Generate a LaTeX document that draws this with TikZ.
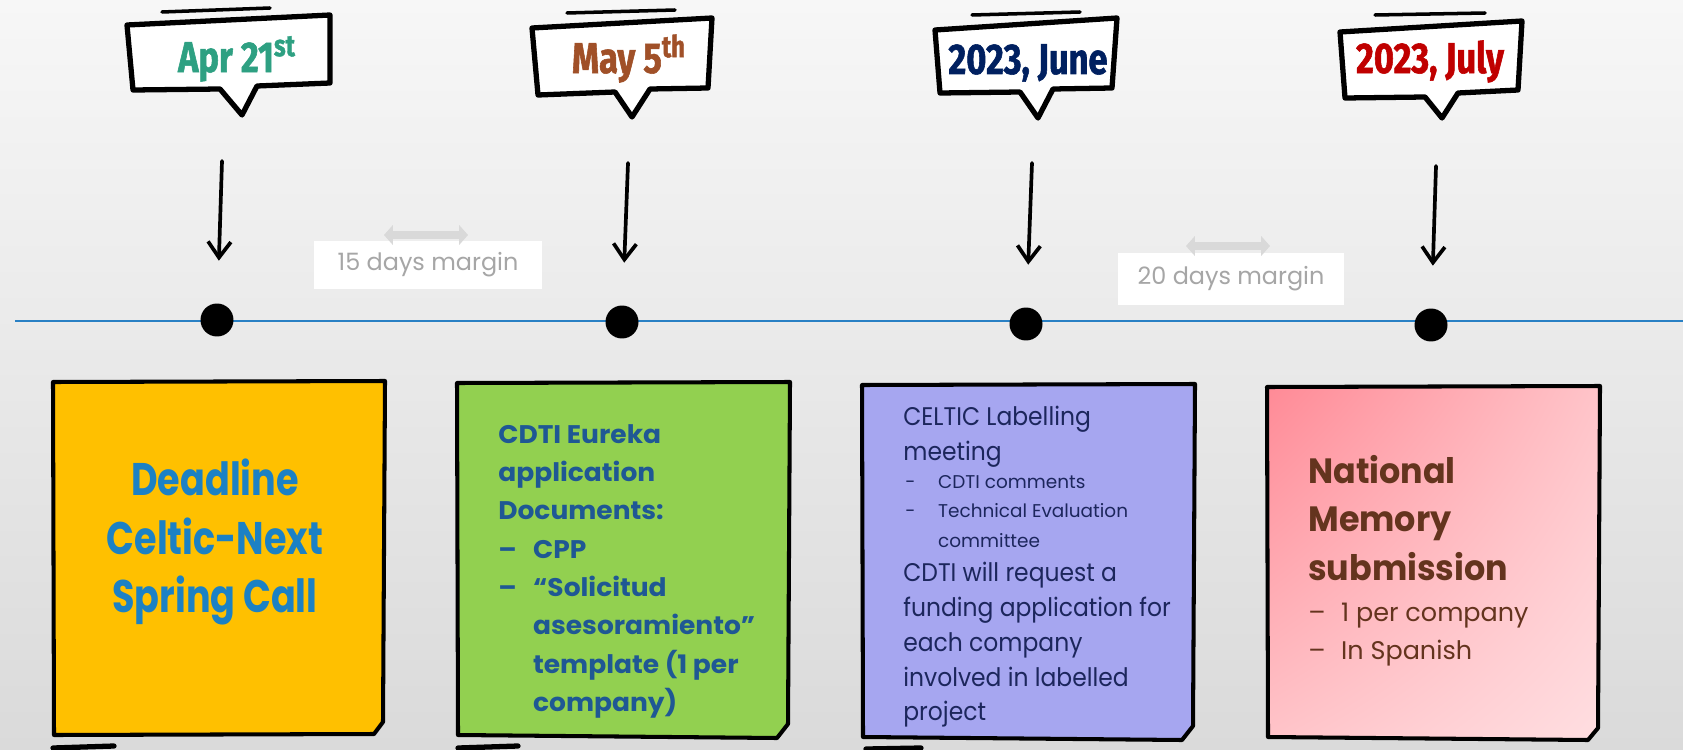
\documentclass[tikz,border=0pt]{standalone}
\usepackage{fontspec}
\usetikzlibrary{arrows.meta,calc,shadings}

\newfontfamily\datefont[FakeStretch=0.8, BoldFeatures={FakeBold=1.3}]{Fira Sans}
\newfontfamily\notefont[FakeStretch=0.8]{Poppins}
\newfontfamily\widefont[FakeStretch=1.04]{Poppins}
\newfontfamily\narrowfont[FakeStretch=0.92]{Poppins}
\newfontfamily\headfont[FakeStretch=0.95]{Poppins}
\newfontfamily\plainfont{Poppins}

\definecolor{paper}{RGB}{247,247,247}
\definecolor{paperlow}{RGB}{218,218,218}
\definecolor{timeblue}{RGB}{41,128,196}
\definecolor{dateapr}{RGB}{46,160,130}
\definecolor{datemay}{RGB}{160,80,40}
\definecolor{datejun}{RGB}{0,32,96}
\definecolor{datejul}{RGB}{192,0,0}
\definecolor{gaptext}{RGB}{166,166,166}
\definecolor{gapline}{RGB}{217,217,217}
\definecolor{noteyellow}{RGB}{255,192,0}
\definecolor{notegreen}{RGB}{146,208,80}
\definecolor{notepurple}{RGB}{166,166,240}
\definecolor{pinkhi}{RGB}{255,138,150}
\definecolor{pinkmid}{RGB}{255,196,201}
\definecolor{pinklo}{RGB}{255,222,225}
\definecolor{textyellow}{RGB}{28,129,196}
\definecolor{textgreen}{RGB}{31,88,148}
\definecolor{textpurple}{RGB}{28,38,92}
\definecolor{textpink}{RGB}{100,52,30}

\tikzset{
  bubble/.style={draw=black, line width=3pt, line join=round, fill=white},
  overline/.style={line width=2pt, line cap=round},
  drop/.style={line width=2.1pt, line cap=round, shorten >=0.85cm,
    -{Straight Barb[length=9pt,width=13pt]}},
  dot/.style={circle, fill=black, minimum size=0.66cm, inner sep=0pt},
  note/.style={draw=black, line width=2.3pt, line join=round},
  datelabel/.style={font=\datefont\bfseries\fontsize{24.5}{28}\selectfont, inner sep=0pt, anchor=base},
  gap/.style={fill=white, text=gaptext, inner sep=0pt,
    font=\plainfont\fontsize{13.6}{16}\selectfont},
  gaparrow/.style={draw=gapline, line width=4pt,
    {Triangle[length=5pt,width=11pt]}-{Triangle[length=5pt,width=11pt]}},
  notetext/.style={inner sep=0pt, align=left, anchor=north west},
}

\begin{document}
\begin{tikzpicture}[x=0.02cm, y=-0.02cm]
  \useasboundingbox (0,0) rectangle (1683,750);
  \shade[top color=paper, bottom color=paperlow] (0,0) rectangle (1683,750);

  % timeline
  \coordinate (tl0) at (15,321);
  \coordinate (tl1) at (1683,321);
  \draw[timeblue, line width=1.3pt] (tl0) -- (tl1);
  \node[dot] (d1) at (217,320) {};
  \node[dot] (d2) at (622,322) {};
  \node[dot] (d3) at (1026,324) {};
  \node[dot] (d4) at (1431,325) {};

  % date bubbles
  \draw[bubble] (127,25) -- (330,15) -- (330,83) -- (257,86) -- (242,115) -- (220,89) -- (133,90) -- cycle;
  \draw[overline] (162,12) -- (270,8);
  \node[datelabel, text=dateapr] (lab1) at (237,72) {Apr 21\textsuperscript{st}};

  \draw[bubble] (532,28) -- (712,18) -- (708,88) -- (650,89) -- (632,117) -- (615,92) -- (538,95) -- cycle;
  \draw[overline] (567,13) -- (675,10);
  \node[datelabel, text=datemay] (lab2) at (629,73) {May 5\textsuperscript{th}};

  \draw[bubble] (935,30) -- (1117,18) -- (1112,88) -- (1053,89) -- (1038,118) -- (1020,92) -- (940,93) -- cycle;
  \draw[overline] (972,15) -- (1080,12);
  \node[datelabel, text=datejun] (lab3) at (1028,74) {2023, June};

  \draw[bubble] (1340,32) -- (1522,21) -- (1518,90) -- (1458,93) -- (1442,118) -- (1425,97) -- (1345,98) -- cycle;
  \draw[overline] (1375,15) -- (1485,13);
  \node[datelabel, text=datejul] (lab4) at (1430,73) {2023, July};

  % arrows down to the dots
  \coordinate (t1) at (222,161);
  \coordinate (t2) at (628,163);
  \coordinate (t3) at (1032,163);
  \coordinate (t4) at (1436,166);
  \foreach \i in {1,...,4}
    \draw[drop] (t\i) -- (d\i);

  % margins
  \node[gap, minimum width=4.56cm, minimum height=0.96cm] (m1) at (428,265) {15 days margin};
  \coordinate (m1a) at (384,235);
  \coordinate (m1b) at (468,235);
  \draw[gaparrow] (m1a) -- (m1b);
  \node[gap, minimum width=4.52cm, minimum height=1.06cm] (m2) at (1231,279) {20 days margin};
  \coordinate (m2a) at (1186,246);
  \coordinate (m2b) at (1270,246);
  \draw[gaparrow] (m2a) -- (m2b);

  % notes
  \draw[note, fill=noteyellow] (53,382) -- (385,381) -- (383,722) -- (374,734) -- (54,735) -- cycle;
  \node[inner sep=0pt, align=center, text=textyellow,
    font=\notefont\bfseries\fontsize{26}{33.2}\selectfont] (n1) at (215,542)
    {Deadline\\Celtic-Next\\Spring Call};

  \draw[note, fill=notegreen] (457,383) -- (790,382) -- (788,724) -- (777,738) -- (458,735) -- cycle;
  \node[notetext, text=textgreen, font=\widefont\bfseries\fontsize{14.5}{21.8}\selectfont] (n2) at (498,424)
    {CDTI Eureka\\application\\Documents:\\
     \makebox[19.8pt][l]{–}CPP\\
     \makebox[19.8pt][l]{–}“Solicitud\\
     \hspace*{19.8pt}asesoramiento”\\
     \hspace*{19.8pt}template (1 per\\
     \hspace*{19.8pt}company)};

  \draw[note, fill=notepurple] (862,385) -- (1195,384) -- (1193,726) -- (1182,740) -- (863,737) -- cycle;
  \node[notetext, text=textpurple, font=\narrowfont\fontsize{14.5}{19.8}\selectfont] (n3a) at (903,406)
    {CELTIC Labelling\\meeting};
  \node[notetext, text=textpurple, font=\plainfont\fontsize{10.5}{16.7}\selectfont] (n3b) at (905,475)
    {\makebox[18.7pt][l]{-}CDTI comments\\
     \makebox[18.7pt][l]{-}Technical Evaluation\\
     \hspace*{18.7pt}committee};
  \node[notetext, text=textpurple, font=\narrowfont\fontsize{14.5}{19.8}\selectfont] (n3c) at (903,562)
    {CDTI will request a\\funding application for\\each company\\involved in labelled\\project};

  \shade[upper left=pinkhi, upper right=pinkmid, lower left=pinkmid, lower right=pinklo]
    (1267,387) -- (1600,386) -- (1598,728) -- (1588,740) -- (1268,737) -- cycle;
  \draw[note] (1267,387) -- (1600,386) -- (1598,728) -- (1588,740) -- (1268,737) -- cycle;
  \node[notetext, text=textpink, font=\headfont\bfseries\fontsize{20}{27.5}\selectfont] (n4a) at (1308,455)
    {National\\Memory\\submission};
  \node[notetext, text=textpink, font=\plainfont\fontsize{14.5}{21.5}\selectfont] (n4b) at (1308,603)
    {\makebox[18.7pt][l]{–}1 per company\\\makebox[18.7pt][l]{–}In Spanish};

  % feet of the next notes
  \draw[line width=3pt, line cap=round] (53,748) -- (114,746);
  \draw[line width=3pt, line cap=round] (458,748) -- (518,746);
  \draw[line width=3pt, line cap=round] (866,749) -- (921,748);
\end{tikzpicture}
\end{document}
